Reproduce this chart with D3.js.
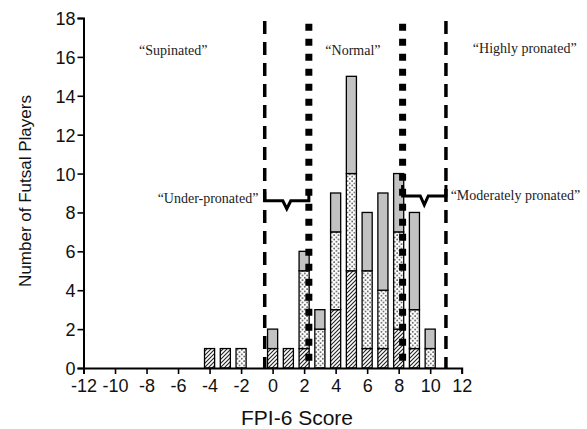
<!DOCTYPE html>
<html>
<head>
<meta charset="utf-8">
<script src="https://cdn.jsdelivr.net/npm/d3@7"></script>
<style>
  body { margin: 0; background: #fff; }
  svg { display: block; }
  .tick text { font-family: "Liberation Sans", Arial, sans-serif; }
</style>
</head>
<body>
<script>
// FPI-6 score bins and stacked counts (bottom hatched, middle dotted, top gray)
let scores  = [-4, -3, -2, 0, 1, 2, 3, 4, 5, 6, 7, 8, 9, 10];
let hatched = [ 1,  1,  0, 1, 1, 1, 0, 3, 5, 1, 1, 2, 1, 0];
let dotted  = [ 0,  0,  1, 0, 0, 4, 2, 4, 5, 4, 3, 5, 2, 1];
let grey    = [ 0,  0,  0, 1, 0, 1, 1, 2, 5, 3, 5, 3, 5, 1];

let xTicks = d3.range(-12, 13, 2);
let yTicks = d3.range(0, 19, 2);

// category cut-offs
let dashedCuts = [-0.5, 11];
let dottedCuts = [2.3, 8.25];

let regionLabels = [
    {text: "\u201CSupinated\u201D", x: -6.3, y: 16.1, anchor: "middle"},
    {text: "\u201CNormal\u201D", x: 5.1, y: 16.1, anchor: "middle"},
    {text: "\u201CHighly pronated\u201D", x: 16.0, y: 16.2, anchor: "middle"},
    {text: "\u201CUnder-pronated\u201D", x: -0.9, y: 8.5, anchor: "end"},
    {text: "\u201CModerately pronated\u201D", x: 11.3, y: 8.65, anchor: "start"}
];

let width = 587, height = 429;

let svg = d3.select("body").append("svg")
    .attr("width", width)
    .attr("height", height);

let x = d3.scaleLinear().domain([-12, 12]).range([83.5, 461.7]);
let y = d3.scaleLinear().domain([0, 18]).range([368, 18]);

let defs = svg.append("defs");

let hatch = defs.append("pattern")
    .attr("id", "hatch")
    .attr("patternUnits", "userSpaceOnUse")
    .attr("width", 4).attr("height", 4);
hatch.append("rect").attr("width", 4).attr("height", 4).attr("fill", "#fff");
hatch.append("path")
    .attr("d", "M-1,1 l2,-2 M0,4 l4,-4 M3,5 l2,-2")
    .attr("stroke", "#222").attr("stroke-width", 1.1);

let dots = defs.append("pattern")
    .attr("id", "dots")
    .attr("patternUnits", "userSpaceOnUse")
    .attr("width", 4.5).attr("height", 4.5);
dots.append("rect").attr("width", 4.5).attr("height", 4.5).attr("fill", "#fff");
dots.append("circle").attr("cx", 1.1).attr("cy", 1.1).attr("r", 0.8).attr("fill", "#333");
dots.append("circle").attr("cx", 3.35).attr("cy", 3.35).attr("r", 0.8).attr("fill", "#333");

// stack the three groups
let rows = scores.map((s, i) => ({score: s, hatched: hatched[i], dotted: dotted[i], grey: grey[i]}));
let stack = d3.stack().keys(["hatched", "dotted", "grey"])(rows);
let fills = {hatched: "url(#hatch)", dotted: "url(#dots)", grey: "#c2c2c2"};

let barW = x(0.64) - x(0);

svg.append("g").selectAll("g")
    .data(stack)
    .join("g")
    .attr("fill", d => fills[d.key])
    .selectAll("rect")
    .data(d => d.filter(p => p[1] > p[0]))
    .join("rect")
    .attr("x", d => x(d.data.score) - barW / 2)
    .attr("y", d => y(d[1]))
    .attr("width", barW)
    .attr("height", d => y(d[0]) - y(d[1]))
    .attr("stroke", "#000")
    .attr("stroke-width", 1.3);

// axes
let xAxis = svg.append("g")
    .attr("transform", `translate(0,${y(0)})`)
    .call(d3.axisBottom(x).tickValues(xTicks).tickSize(6).tickPadding(5).tickFormat(d3.format("d")));
let yAxis = svg.append("g")
    .attr("transform", `translate(${x(-12)},0)`)
    .call(d3.axisLeft(y).tickValues(yTicks).tickSize(6).tickPadding(2));

[xAxis, yAxis].forEach(a => {
    a.select(".domain").attr("stroke", "#000").attr("stroke-width", 2);
    a.selectAll(".tick line").attr("stroke", "#000").attr("stroke-width", 1.6);
    a.selectAll(".tick text").attr("font-size", 18).attr("fill", "#111");
});
xAxis.selectAll(".tick text").text(d => d < 0 ? "-" + Math.abs(d) : d);
yAxis.selectAll(".tick text").attr("dy", "0.36em");

// cut-off lines
svg.append("g").selectAll("line")
    .data(dashedCuts)
    .join("line")
    .attr("x1", d => x(d)).attr("x2", d => x(d))
    .attr("y1", y(17.85)).attr("y2", y(0))
    .attr("stroke", "#000")
    .attr("stroke-width", 3.5)
    .attr("stroke-dasharray", "13,8");

svg.append("g").selectAll("line")
    .data(dottedCuts)
    .join("line")
    .attr("x1", d => x(d)).attr("x2", d => x(d))
    .attr("y1", y(17.7)).attr("y2", y(0))
    .attr("stroke", "#000")
    .attr("stroke-width", 7)
    .attr("stroke-dasharray", "7,8");

// braces between cut-offs
function brace(x1, x2, yLine, up, dip) {
    let cx = (x1 + x2) / 2;
    return `M${x1},${yLine - up} L${x1},${yLine} L${cx - 4},${yLine} L${cx},${yLine + dip} L${cx + 4},${yLine} L${x2},${yLine} L${x2},${yLine - up}`;
}
svg.append("path")
    .attr("d", brace(x(dashedCuts[0]), x(dottedCuts[0]), y(8.6), 9, 8))
    .attr("fill", "none").attr("stroke", "#000").attr("stroke-width", 3);
svg.append("path")
    .attr("d", brace(x(dottedCuts[1]), x(dashedCuts[1]), y(8.85), 11, 9))
    .attr("fill", "none").attr("stroke", "#000").attr("stroke-width", 3);

// region labels
svg.append("g").selectAll("text")
    .data(regionLabels)
    .join("text")
    .attr("x", d => x(d.x))
    .attr("y", d => y(d.y))
    .attr("text-anchor", d => d.anchor)
    .attr("font-family", "'Liberation Serif', 'Times New Roman', serif")
    .attr("font-size", 14)
    .attr("fill", "#222")
    .text(d => d.text);

// axis titles
svg.append("text")
    .attr("x", 297)
    .attr("y", 425)
    .attr("text-anchor", "middle")
    .attr("font-family", "'Liberation Sans', Arial, sans-serif")
    .attr("font-size", 21)
    .attr("fill", "#111")
    .text("FPI-6 Score");

svg.append("text")
    .attr("transform", "translate(31,191) rotate(-90)")
    .attr("text-anchor", "middle")
    .attr("font-family", "'Liberation Sans', Arial, sans-serif")
    .attr("font-size", 17)
    .attr("fill", "#111")
    .text("Number of Futsal Players");
</script>
</body>
</html>
